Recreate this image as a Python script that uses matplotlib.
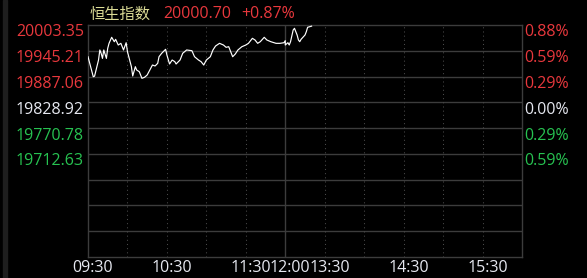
import matplotlib

matplotlib.use("Agg")
import matplotlib.pyplot as plt
import matplotlib.transforms as mtransforms

plt.rcParams["lines.scale_dashes"] = False

# ---- data ----
TITLE = "恒生指数"
LAST_PRICE = "20000.70"
LAST_CHANGE = "+0.87%"
PREV_CLOSE = 19828.92

LEFT_LABELS = ["20003.35", "19945.21", "19887.06", "19828.92", "19770.78", "19712.63"]
RIGHT_LABELS = ["0.88%", "0.59%", "0.29%", "0.00%", "0.29%", "0.59%"]

TIME_TICKS = ["09:30", "10:30", "11:30", "12:00", "13:30", "14:30", "15:30"]

times = [
    "09:30", "09:31", "09:34", "09:35", "09:38", "09:39", "09:40", "09:41", "09:42", "09:44",
    "09:45", "09:46", "09:48", "09:50", "09:51", "09:53", "09:55", "09:57", "09:59", "10:00",
    "10:03", "10:04", "10:06", "10:07", "10:09", "10:11", "10:13", "10:15", "10:17", "10:19",
    "10:21", "10:23", "10:24", "10:26", "10:29", "10:30", "10:32", "10:34", "10:36", "10:37",
    "10:40", "10:42", "10:45", "10:49", "10:51", "10:54", "10:56", "10:58", "11:00", "11:03",
    "11:05", "11:07", "11:10", "11:13", "11:15", "11:17", "11:20", "11:22", "11:24", "11:27",
    "11:30", "11:32", "11:35", "11:37", "11:39", "11:41", "11:44", "11:46", "11:49", "11:53",
    "11:56", "11:59", "12:00", "13:00", "13:02", "13:03", "13:04", "13:06", "13:07", "13:09",
    "13:10", "13:11", "13:12", "13:15", "13:16", "13:17", "13:20",
]
prices = [
    19931.8, 19920.5, 19886.7, 19888.0, 19924.4, 19947.0, 19939.5, 19928.0, 19947.0, 19928.0,
    19950.8, 19962.0, 19975.6, 19965.7, 19971.0, 19958.2, 19962.0, 19947.0, 19963.4, 19943.1,
    19909.3, 19888.3, 19909.3, 19901.8, 19898.0, 19883.1, 19885.4, 19890.6, 19901.8, 19913.1,
    19910.9, 19916.9, 19931.8, 19939.5, 19948.5, 19935.7, 19915.4, 19924.4, 19920.6, 19915.4,
    19924.4, 19939.5, 19947.0, 19945.4, 19931.8, 19924.4, 19920.6, 19913.1, 19924.4, 19931.8,
    19947.0, 19956.0, 19962.0, 19958.2, 19953.0, 19954.4, 19931.8, 19937.9, 19947.0, 19954.4,
    19958.2, 19962.0, 19973.3, 19969.5, 19962.0, 19965.7, 19975.6, 19969.5, 19965.7, 19962.0,
    19962.0, 19963.4, 19968.0, 19958.2, 19963.4, 19958.2, 19965.7, 19992.0, 19995.9, 19980.8,
    19969.5, 19965.7, 19971.0, 19980.8, 19988.2, 19998.2, 20000.70,
]

# ---- style ----
BG = "#000000"
GRID = "#3c3c3c"
RED = "#e8383d"
GREEN = "#27c251"
WHITE = "#e6e8f0"
TITLE_C = "#dcdc96"
NUM_FONT = ["Open Sans", "DejaVu Sans"]
CJK_FONT = ["Noto Sans CJK SC", "DejaVu Sans"]
FS = 11.5


def to_x(t):
    """Minutes since the open, with the lunch break removed."""
    h, m = map(int, t.split(":"))
    mins = h * 60 + m
    return mins - 570 if mins <= 720 else mins - 780 + 150


W, H = 587, 278
fig = plt.figure(figsize=(W / 100, H / 100), dpi=100, facecolor=BG)
ax = fig.add_axes([88 / W, 21 / H, 434 / W, 232 / H], facecolor=BG)

step = float(LEFT_LABELS[0]) - float(LEFT_LABELS[1])
levels = [PREV_CLOSE + step * k for k in range(3, -7, -1)]
ax.set_xlim(0, 330)
ax.set_ylim(levels[-1], levels[0])

# horizontal grid
for lv in levels[1:-1]:
    ax.axhline(lv, color=GRID, lw=1.0, zorder=1)
# vertical grid: dotted every 30 min, solid at the lunch break
for m in range(30, 330, 30):
    if m == 150:
        ax.axvline(m, color=GRID, lw=1.0, zorder=1)
    else:
        ax.axvline(m, color="#4a4a4a", lw=0.75, ls=(0, (0.75, 2.25)), zorder=1)

for s in ax.spines.values():
    s.set_color(GRID)
    s.set_linewidth(1.0)

ax.plot([to_x(t) for t in times], prices, color="white", lw=0.85, zorder=3)

# x tick labels
ax.set_xticks([to_x(t) for t in TIME_TICKS])
ax.set_xticklabels(TIME_TICKS, fontsize=FS, color=WHITE, family=NUM_FONT)
ax.tick_params(axis="x", length=0, pad=2.0)
shift = mtransforms.ScaledTranslation(5 / 100, 0, fig.dpi_scale_trans)
for lab in ax.get_xticklabels():
    lab.set_transform(lab.get_transform() + shift)
ax.set_yticks([])

# y labels (text sits just below each grid line)
down = mtransforms.ScaledTranslation(0, -11.5 / 100, fig.dpi_scale_trans)
lab_tr = mtransforms.blended_transform_factory(fig.transFigure, ax.transData) + down
for i, (ll, rl) in enumerate(zip(LEFT_LABELS, RIGHT_LABELS)):
    lv = levels[i]
    c = RED if i < 3 else (WHITE if i == 3 else GREEN)
    fig.text(84 / W, lv, ll, transform=lab_tr, ha="right", va="baseline",
             fontsize=FS, color=c, family=NUM_FONT)
    fig.text(524 / W, lv, rl, transform=lab_tr, ha="left", va="baseline",
             fontsize=FS, color=c, family=NUM_FONT)

# header
base_y = 1 - 18.5 / H
fig.text(90 / W, base_y, TITLE, ha="left", va="baseline", fontsize=11,
         color=TITLE_C, family=CJK_FONT)
fig.text(163 / W, base_y, LAST_PRICE, ha="left", va="baseline", fontsize=FS,
         color=RED, family=NUM_FONT)
fig.text(241.5 / W, base_y, LAST_CHANGE, ha="left", va="baseline", fontsize=FS,
         color=RED, family=NUM_FONT)

# thin panel edge on the far left
fig.patches.append(plt.Rectangle((2.5 / W, 0), 4.5 / W, 1, transform=fig.transFigure,
                                 color="#1e1e1e", zorder=0))

fig.savefig("out.png", dpi=100, facecolor=BG)
